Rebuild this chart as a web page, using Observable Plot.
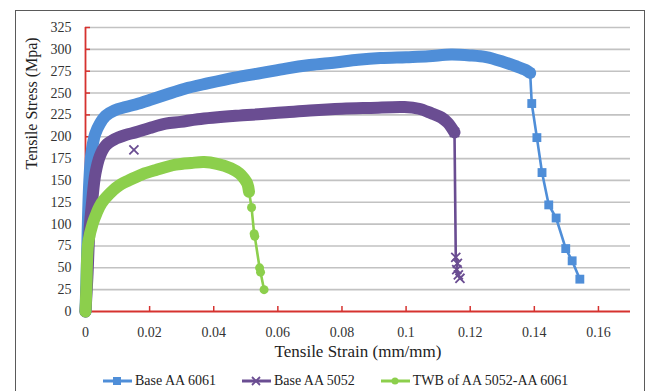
<!DOCTYPE html>
<html><head><meta charset="utf-8">
<script src="https://cdn.jsdelivr.net/npm/d3@7"></script>
<script src="https://cdn.jsdelivr.net/npm/@observablehq/plot@0.6"></script>
<style>
body{margin:0;background:#fff;}
#wrap{position:relative;width:646px;height:391px;overflow:hidden;background:#fff;font-family:"Liberation Serif","Times New Roman",serif;}
#frame{position:absolute;left:15px;top:10px;width:630px;height:420px;border:1.5px solid #5a5a5a;box-sizing:border-box;}
#chart{position:absolute;left:0;top:0;}
#legend{position:absolute;left:102px;top:373px;display:flex;align-items:center;gap:25px;font-size:14px;color:#222;white-space:nowrap;}
.item{display:flex;align-items:center;gap:2px;}
.item svg{display:block;}
</style></head>
<body>
<div id="wrap"><div id="frame"></div><div id="chart"></div><div id="legend"></div></div>
<script>
// ---- data ----
const seriesNames = ["Base AA 6061", "Base AA 5052", "TWB of AA 5052-AA 6061"];
const seriesColors = ["#4f8ed8", "#6a4d92", "#8ccf4c"];
const xTicks = [0, 0.02, 0.04, 0.06, 0.08, 0.1, 0.12, 0.14, 0.16];
const xTickLabels = ["0", "0.02", "0.04", "0.06", "0.08", "0.1", "0.12", "0.14", "0.16"];
const yTicks = [0, 25, 50, 75, 100, 125, 150, 175, 200, 225, 250, 275, 300, 325];
const xTitle = "Tensile Strain (mm/mm)";
const yTitle = "Tensile Stress (Mpa)";

// Base AA 6061: dense recorded band, then sparse fracture points
const aa6061Dense = [[0,0],[0.0004,50],[0.0008,110],[0.0012,150],[0.0018,180],[0.003,203],[0.0045,215],[0.0063,224],[0.009,230],[0.0125,234],[0.0156,237],[0.02,242],[0.025,248],[0.031,255],[0.038,261],[0.047,268],[0.055,273],[0.0625,278],[0.07,282],[0.078,285],[0.085,288],[0.092,290],[0.1,291],[0.107,292],[0.114,294],[0.12,293],[0.125,291],[0.13,286],[0.134,281],[0.1375,276],[0.1387,273]];
const aa6061Tail = [[0.1387,273],[0.1392,238],[0.1408,199],[0.1424,159],[0.1445,122],[0.1468,107],[0.1498,72],[0.1518,58],[0.1542,37]];

// Base AA 5052
const aa5052Dense = [[0,0],[0.0006,40],[0.0012,90],[0.0021,127],[0.0031,158],[0.0045,178],[0.0063,190],[0.009,197],[0.0125,202],[0.0156,205],[0.02,210],[0.025,215],[0.0297,217],[0.035,220],[0.0469,224],[0.055,226],[0.0625,228],[0.07,230],[0.08,232],[0.089,233],[0.0995,234],[0.104,232],[0.1078,227],[0.111,222],[0.113,216],[0.1151,205]];
const aa5052Tail = [[0.1151,205],[0.1155,62],[0.116,55],[0.1158,48],[0.1163,42],[0.1168,38]];
const aa5052Stray = [[0.0151,185]];

// TWB of AA 5052-AA 6061
const twbDense = [[0,0],[0.0003,30],[0.0005,60],[0.0009,80],[0.0022,100],[0.0035,113],[0.005,124],[0.0073,134],[0.01,143],[0.0135,150],[0.0177,157],[0.022,162],[0.0281,168],[0.033,170],[0.037,171],[0.041,169],[0.0453,164],[0.048,158],[0.0495,152],[0.0505,146],[0.051,137]];
const twbTail = [[0.051,137],[0.0518,119],[0.0526,89],[0.0528,86],[0.0543,50],[0.0546,45],[0.0557,25]];

// ---- chart ----
const red = "#d6322f";
const serif = "'Liberation Serif','Times New Roman',serif";
const W = 646, H = 372;
const X = d => d[0], Y = d => d[1];
const fmt = d => xTickLabels[xTicks.indexOf(d)];

function series(dense, tail, color, symbol, r, extra = []) {
  const isStroke = symbol === "times";
  return [
    Plot.line(dense, {x: X, y: Y, stroke: color, strokeWidth: 12, strokeLinejoin: "round", strokeLinecap: "round", curve: "catmull-rom"}),
    Plot.line(tail, {x: X, y: Y, stroke: color, strokeWidth: 2.6}),
    Plot.dot(tail.concat(extra), {x: X, y: Y, symbol, r,
      fill: isStroke ? "none" : color, stroke: color, strokeWidth: isStroke ? 1.8 : 0})
  ];
}

const chart = Plot.plot({
  width: W, height: H,
  marginLeft: 85, marginRight: 16, marginTop: 27, marginBottom: H - 311,
  style: {background: "transparent", fontFamily: serif, fontSize: "14px", color: "#333"},
  x: {domain: [0, 0.17]},
  y: {domain: [0, 325]},
  marks: [
    Plot.ruleY(yTicks.filter(v => v > 0), {stroke: "#c2c2c2", strokeWidth: 1.6}),
    Plot.axisY({ticks: yTicks, tickSize: 0, tickPadding: 14, label: null, fontFamily: serif, fontSize: 14}),
    Plot.axisY({ticks: yTicks.filter(v => v > 0), tickSize: -5, tickFormat: () => "", label: null, stroke: red, strokeWidth: 1.5}),
    Plot.axisX({ticks: xTicks, tickFormat: fmt, tickSize: 0, tickPadding: 16, label: null, fontFamily: serif, fontSize: 14}),
    Plot.axisX({ticks: xTicks.filter(v => v > 0), tickSize: -5, tickFormat: () => "", label: null, stroke: red, strokeWidth: 1.5}),
    Plot.ruleX([0], {stroke: red, strokeWidth: 1.8}),
    Plot.ruleY([0], {stroke: red, strokeWidth: 1.8}),
    ...series(aa6061Dense, aa6061Tail, seriesColors[0], "square", 5),
    ...series(aa5052Dense, aa5052Tail, seriesColors[1], "times", 4.2, aa5052Stray),
    ...series(twbDense, twbTail, seriesColors[2], "circle", 4.5),
    Plot.text([xTitle], {frameAnchor: "bottom", dy: 45, fontSize: 17, fontFamily: serif, fill: "#222"}),
    Plot.text([yTitle], {frameAnchor: "left", dx: -54, rotate: -90, fontSize: 16, fontFamily: serif, fill: "#222"})
  ]
});
document.getElementById("chart").appendChild(chart);

// ---- legend ----
const legend = document.getElementById("legend");
const symbols = ["square", "times", "circle"];
seriesNames.forEach((name, i) => {
  const item = document.createElement("div");
  item.className = "item";
  const c = seriesColors[i];
  let m;
  if (symbols[i] === "square") m = `<rect x="11" y="2" width="8" height="8" fill="${c}"/>`;
  else if (symbols[i] === "times") m = `<path d="M11,2L19,10M19,2L11,10" stroke="${c}" stroke-width="1.8"/>`;
  else m = `<circle cx="15" cy="6" r="3.5" fill="${c}"/>`;
  item.innerHTML = `<svg width="31" height="12"><line x1="1" y1="6" x2="30" y2="6" stroke="${c}" stroke-width="3"/>${m}</svg><span>${name}</span>`;
  legend.appendChild(item);
});
</script>
</body></html>
